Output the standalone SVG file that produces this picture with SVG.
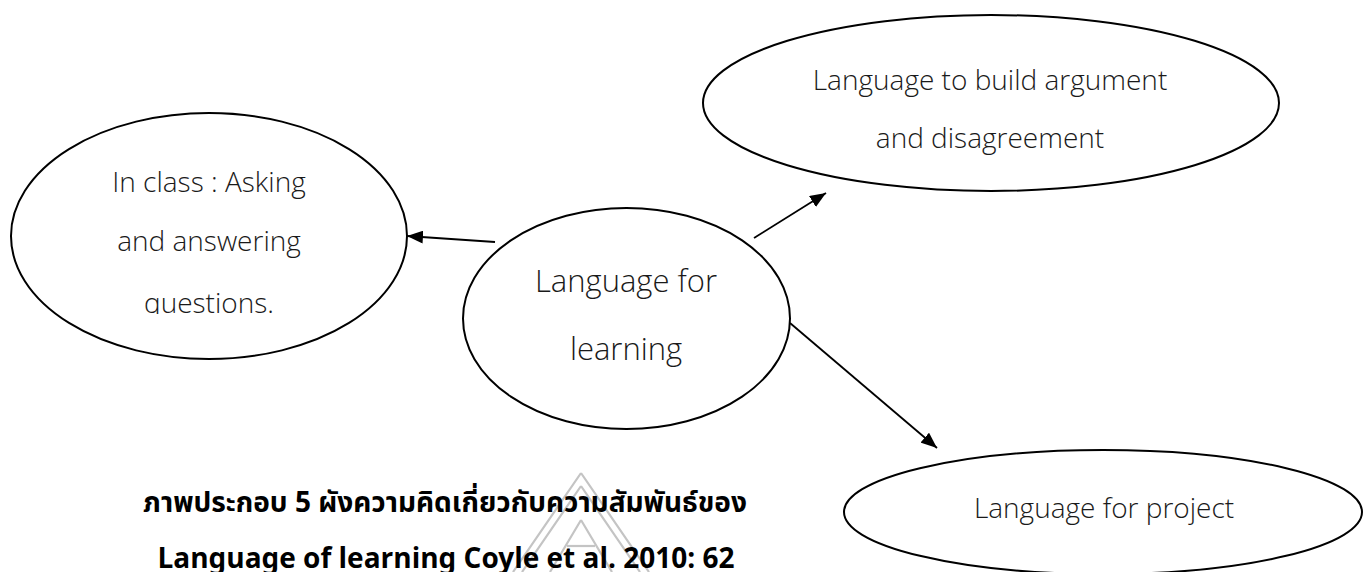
<svg xmlns="http://www.w3.org/2000/svg" width="1363" height="572" viewBox="0 0 1363 572">
  <style>
    .node ellipse { fill: #ffffff; stroke: #000000; stroke-width: 2; }
    .lbl { font-family: "Open Sans", "Noto Sans", sans-serif; font-weight: 300; fill: #1a1a1a; text-anchor: middle; }
    .conn line { stroke: #000000; stroke-width: 1.8; }
    .cap { font-family: "Noto Sans Thai", "Noto Sans", "Open Sans", sans-serif; font-weight: 700; fill: #000000; text-anchor: middle; font-size: 28px; }
    .wm { fill: none; stroke: #c4c4c4; stroke-width: 2.2; }
  </style>
  <defs>
    <marker id="arrow" markerUnits="userSpaceOnUse" markerWidth="16" markerHeight="13" refX="16" refY="6.5" orient="auto">
      <path d="M0,0 L16,6.5 L0,13 z" fill="#000000"/>
    </marker>
    <clipPath id="clipLeft">
      <rect x="0" y="0" width="420" height="314"/>
    </clipPath>
  </defs>
  <rect width="1363" height="572" fill="#ffffff"/>

  <g id="watermark" class="wm">
    <path d="M581,473 L513,572 M581,473 L649,572"/>
    <path d="M581,486 L522,572 M581,486 L640,572"/>
    <path d="M581,520 L550,572 M581,520 L612,572"/>
    <path d="M567,546 L595,546"/>
  </g>

  <g id="node-inclass" class="node">
    <ellipse cx="209" cy="236" rx="198" ry="123"/>
    <g clip-path="url(#clipLeft)">
      <text class="lbl" x="209" y="192" font-size="28">In class : Asking</text>
      <text class="lbl" x="209" y="251" font-size="28">and answering</text>
      <text class="lbl" x="209" y="313" font-size="28">questions.</text>
    </g>
  </g>

  <g id="node-learning" class="node">
    <ellipse cx="626.5" cy="318.5" rx="163.5" ry="110.5"/>
    <text class="lbl" x="626" y="292" font-size="31">Language for</text>
    <text class="lbl" x="626" y="360" font-size="31">learning</text>
  </g>

  <g id="node-argument" class="node">
    <ellipse cx="991" cy="103" rx="288" ry="88"/>
    <text class="lbl" x="990" y="90" font-size="28">Language to build argument</text>
    <text class="lbl" x="990" y="148" font-size="28">and disagreement</text>
  </g>

  <g id="node-project" class="node">
    <ellipse cx="1103" cy="512" rx="259" ry="62"/>
    <text class="lbl" x="1104" y="518" font-size="28">Language for project</text>
  </g>

  <g id="connectors" class="conn">
    <line x1="495" y1="242" x2="407" y2="236" marker-end="url(#arrow)"/>
    <line x1="754" y1="238" x2="826" y2="193" marker-end="url(#arrow)"/>
    <line x1="790" y1="323" x2="937" y2="448" marker-end="url(#arrow)"/>
  </g>

  <g id="caption">
    <text class="cap" x="445" y="512">ภาพประกอบ 5 ผังความคิดเกี่ยวกับความสัมพันธ์ของ</text>
    <text class="cap" x="446" y="568">Language of learning Coyle et al. 2010: 62</text>
  </g>
</svg>
